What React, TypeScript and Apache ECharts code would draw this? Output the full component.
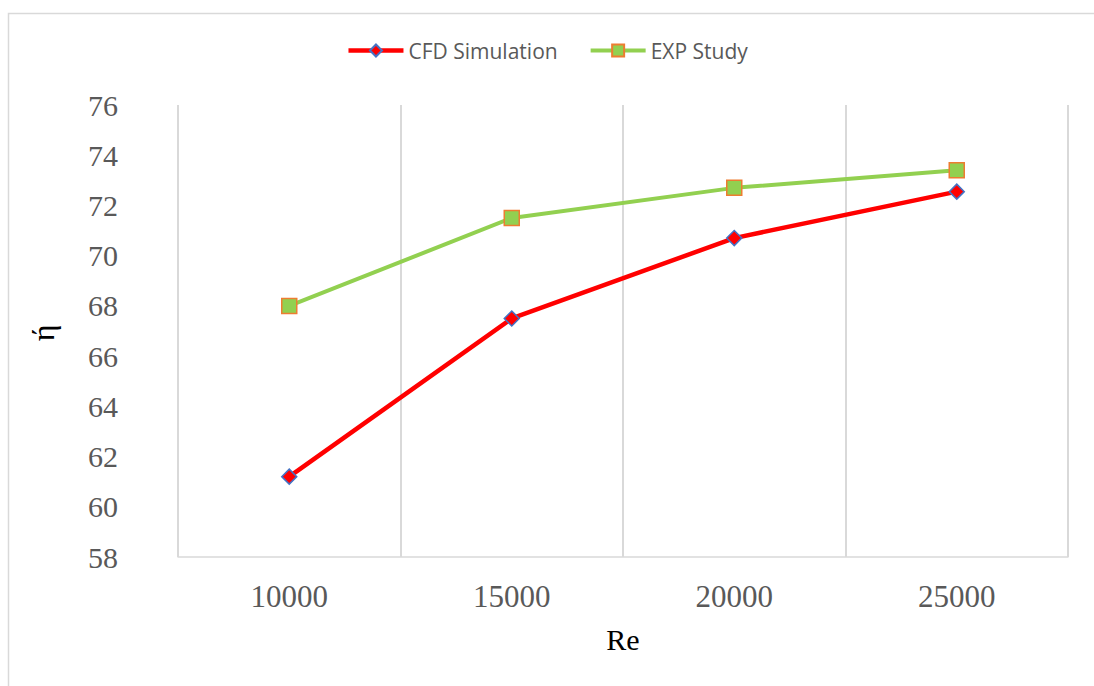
import React, { useEffect, useRef } from "react";
import * as echarts from "echarts";

const categories = ["10000", "15000", "20000", "25000"];
const cfdValues = [61.2, 67.5, 70.7, 72.55];
const expValues = [68.0, 71.5, 72.7, 73.4];
const yTicks = { min: 58, max: 76, interval: 2 };

export default function App() {
  const ref = useRef<HTMLDivElement>(null);
  useEffect(() => {
    document.body.style.margin = "0";
    const chart = echarts.init(ref.current!, null, { renderer: "svg" });
    const serif = "'Liberation Serif', 'Times New Roman', serif";
    chart.setOption({
      animation: false,
      backgroundColor: "#ffffff",
      graphic: [
        {
          type: "rect",
          shape: { x: 8.5, y: 13.5, width: 1200, height: 800 },
          style: { fill: "none", stroke: "#d9d9d9", lineWidth: 1.5 },
          z: -1,
        },
        {
          type: "text",
          x: 43,
          y: 333,
          rotation: Math.PI / 2,
          style: {
            text: "ή",
            fontFamily: serif,
            fontSize: 32,
            fill: "#000000",
            align: "center",
            verticalAlign: "middle",
          },
        },
      ],
      legend: {
        top: 35,
        left: "center",
        itemWidth: 55,
        itemHeight: 15,
        itemGap: 31,
        textStyle: { fontFamily: "'Open Sans', 'Noto Sans', sans-serif", fontSize: 21, color: "#595959" },
        data: [
          { name: "CFD Simulation", lineStyle: { width: 4.5, color: "#ff0000" } },
          { name: "EXP Study", lineStyle: { width: 4, color: "#92d050" } },
        ],
      },
      grid: { left: 178, right: 26, top: 105, bottom: 129, containLabel: false },
      xAxis: {
        type: "category",
        data: categories,
        boundaryGap: true,
        name: "Re",
        nameLocation: "middle",
        nameGap: 67,
        nameTextStyle: { fontFamily: serif, fontSize: 30, color: "#000000" },
        axisLine: { show: true, lineStyle: { color: "#d9d9d9", width: 1.5 } },
        axisTick: { show: false },
        axisLabel: { margin: 24, fontFamily: serif, fontSize: 31, color: "#595959" },
        splitLine: { show: true, lineStyle: { color: "#d9d9d9", width: 2 } },
      },
      yAxis: {
        type: "value",
        min: yTicks.min,
        max: yTicks.max,
        interval: yTicks.interval,
        axisLine: { show: false },
        axisTick: { show: false },
        splitLine: { show: false },
        axisLabel: { margin: 60, fontFamily: serif, fontSize: 30, color: "#595959" },
      },
      series: [
        {
          name: "CFD Simulation",
          type: "line",
          data: cfdValues,
          symbol: "diamond",
          symbolSize: 15,
          lineStyle: { color: "#ff0000", width: 4.5 },
          itemStyle: { color: "#ff0000", borderColor: "#4472c4", borderWidth: 1.5 },
          z: 3,
        },
        {
          name: "EXP Study",
          type: "line",
          data: expValues,
          symbol: "rect",
          symbolSize: 15,
          lineStyle: { color: "#92d050", width: 4 },
          itemStyle: { color: "#92d050", borderColor: "#ed7d31", borderWidth: 1.5 },
          z: 2,
        },
      ],
    });
    return () => chart.dispose();
  }, []);
  return <div ref={ref} style={{ width: 1094, height: 686 }} />;
}
